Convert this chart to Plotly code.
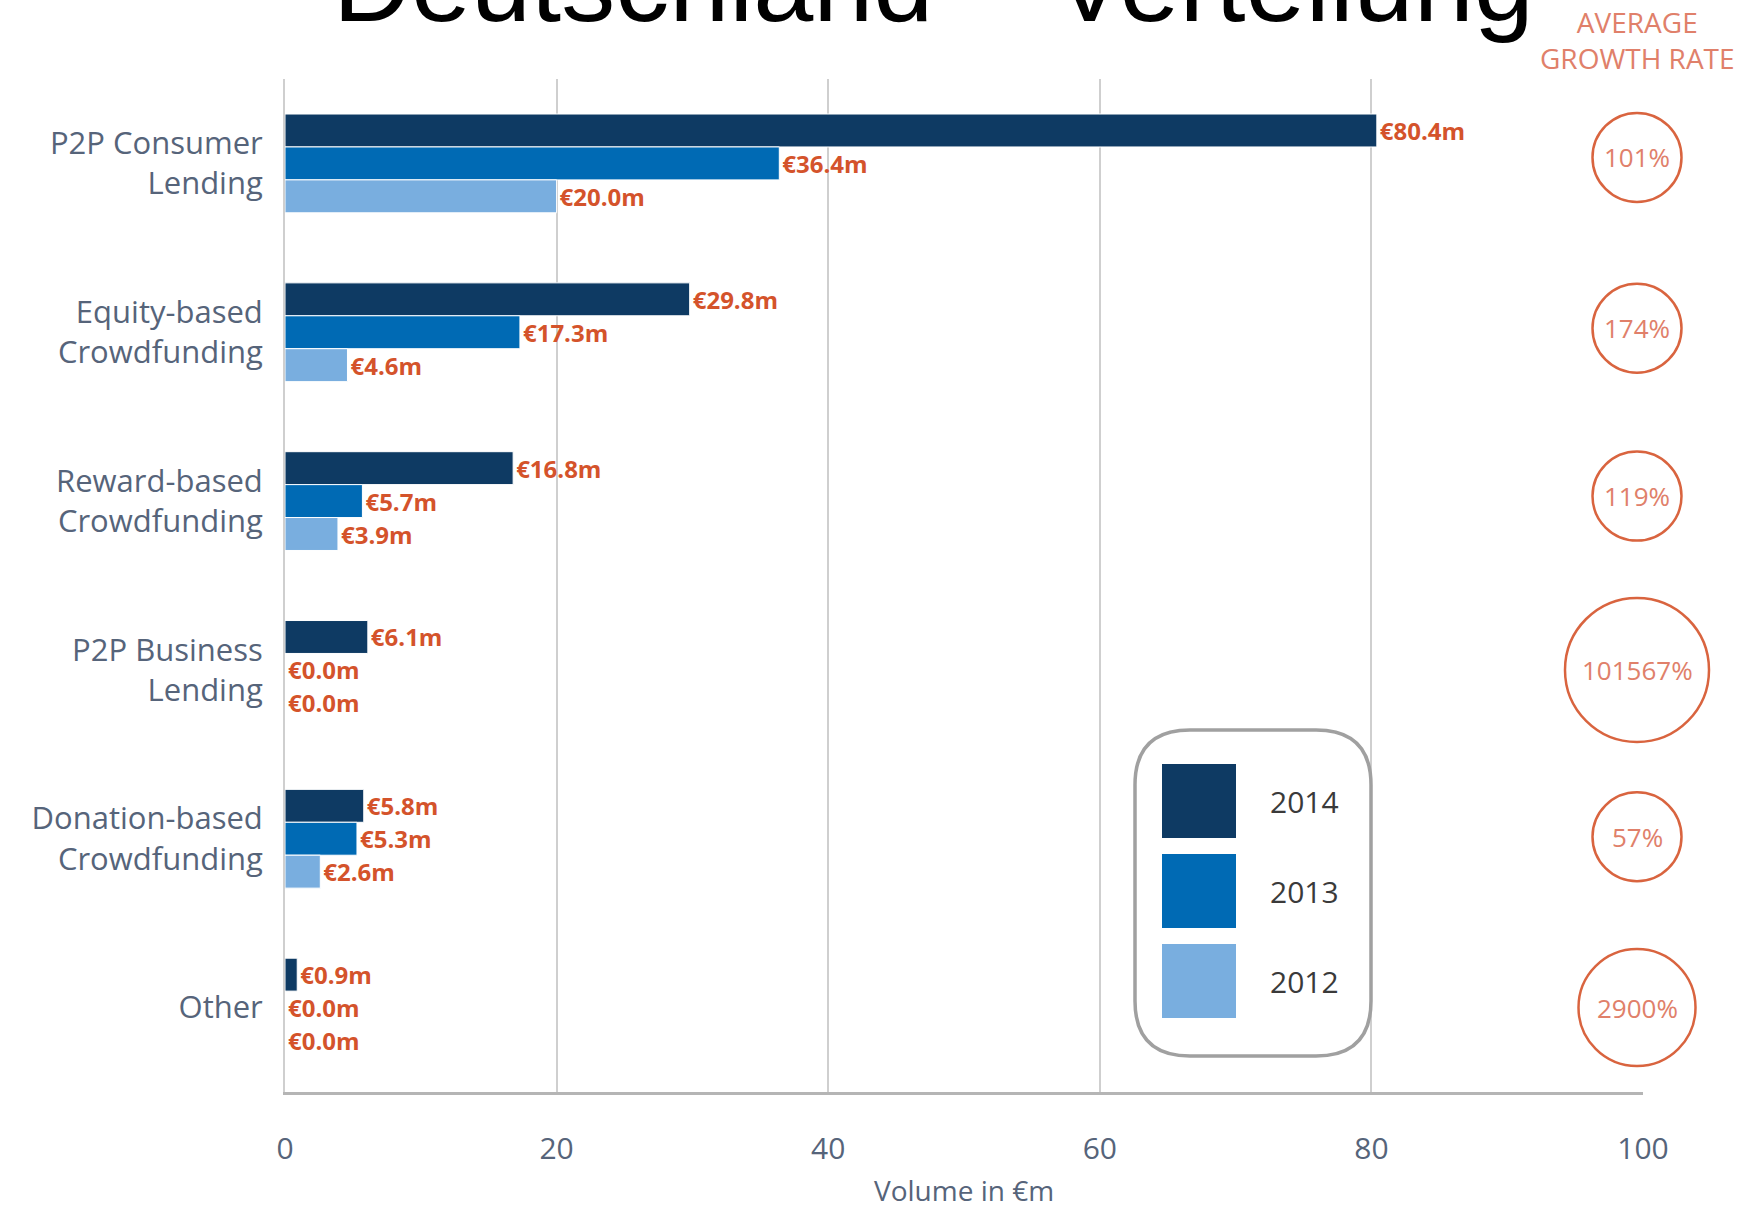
import plotly.graph_objects as go

# ---------------- data ----------------
categories = ["P2P Consumer<br>Lending", "Equity-based<br>Crowdfunding", "Reward-based<br>Crowdfunding",
              "P2P Business<br>Lending", "Donation-based<br>Crowdfunding", "Other"]
years = ["2014", "2013", "2012"]
vol_2014 = [80.4, 29.8, 16.8, 6.1, 5.8, 0.9]
vol_2013 = [36.4, 17.3, 5.7, 0.0, 5.3, 0.0]
vol_2012 = [20.0, 4.6, 3.9, 0.0, 2.6, 0.0]
growth_rates = ["101%", "174%", "119%", "101567%", "57%", "2900%"]
x_ticks = [0, 20, 40, 60, 80, 100]
title_text = "Deutschland – Verteilung"
growth_header = "AVERAGE<br>GROWTH RATE"
x_title = "Volume in €m"

# ---------------- styles ----------------
colors = ["#0E3A63", "#006AB4", "#79AEDF"]
circle_diams = [89, 89, 89, 144, 89, 117]
circle_dy = [-6, -4, -5, 0, -2, 0]   # pixel nudges of circle centres
orange = "#D4532B"
circle_col = "#D9643F"
growth_text_col = "#E0806A"
axis_text_col = "#56647A"
FONT = "Open Sans"

W, H = 1762, 1209
ML, MR, MT, MB = 285, 119, 79, 117
PW, PH = W - ML - MR, H - MT - MB

fig = go.Figure()
for name, vals, col in zip(years, [vol_2014, vol_2013, vol_2012], colors):
    fig.add_trace(go.Bar(
        y=categories, x=vals, name=name, orientation="h",
        marker=dict(color=col, line=dict(color="white", width=1)),
        texttemplate="€%{x:.1f}m", textposition="outside",
        textfont=dict(family=FONT, size=24, color=orange, weight="bold"),
        constraintext="none", cliponaxis=False, showlegend=False,
    ))

fig.update_layout(
    width=W, height=H,
    margin=dict(l=ML, r=MR, t=MT, b=MB, pad=0),
    paper_bgcolor="white", plot_bgcolor="white",
    barmode="group", bargap=0.415, bargroupgap=0.0,
    font=dict(family=FONT, color=axis_text_col),
    xaxis=dict(range=[0, 100], tickvals=x_ticks, showgrid=False, zeroline=False,
               showline=True, linecolor="#B5B5B5", linewidth=3,
               ticks="outside", ticklen=28, tickcolor="rgba(0,0,0,0)",
               tickfont=dict(size=30, color=axis_text_col)),
    xaxis2=dict(range=[0, 100], overlaying="x", tickvals=x_ticks[1:-1], showgrid=True,
                gridcolor="#CFCFCF", gridwidth=1.5, showticklabels=False, zeroline=False,
                showline=False, side="bottom"),
    yaxis=dict(autorange="reversed", type="category", showgrid=False, zeroline=False,
               showline=True, linecolor="#CFCFCF", linewidth=2,
               ticks="outside", ticklen=14, tickcolor="rgba(0,0,0,0)",
               tickfont=dict(size=31, color=axis_text_col)),
)
# invisible trace to activate gridline axis
fig.add_trace(go.Scatter(x=[None], y=[None], xaxis="x2", showlegend=False, hoverinfo="skip"))

annotations = []
shapes = []


def px_x(p):
    return (p - ML) / PW


def px_y(p):
    return (MT + PH - p) / PH


# title (clipped at top)
annotations.append(dict(text=title_text, xref="paper", yref="paper", x=px_x(933),
                        y=px_y(46), xanchor="center", yanchor="bottom", showarrow=False,
                        font=dict(family="Liberation Sans", size=108, color="black")))
# growth header
annotations.append(dict(text=growth_header, xref="paper", yref="paper", x=px_x(1637),
                        y=px_y(40), xanchor="center", yanchor="middle", showarrow=False,
                        font=dict(family=FONT, size=28, color=growth_text_col)))
# axis title
annotations.append(dict(text=x_title, xref="paper", yref="paper", x=0.5,
                        y=px_y(1190), xanchor="center", yanchor="middle", showarrow=False,
                        font=dict(family=FONT, size=28, color=axis_text_col)))

# growth circles
cx_paper = px_x(1637)
for i, (g, d, dy) in enumerate(zip(growth_rates, circle_diams, circle_dy)):
    shapes.append(dict(type="circle", xref="paper", yref="y", xsizemode="pixel", ysizemode="pixel",
                       xanchor=cx_paper, yanchor=i, x0=-d / 2, x1=d / 2,
                       y0=-d / 2 - dy, y1=d / 2 - dy,
                       line=dict(color=circle_col, width=2.5), fillcolor="rgba(0,0,0,0)"))
    annotations.append(dict(text=g, xref="paper", yref="y", x=cx_paper, y=i, yshift=-dy, showarrow=False,
                            xanchor="center", yanchor="middle",
                            font=dict(family=FONT, size=26, color=growth_text_col)))

# custom legend
lx0, lx1, ly0, ly1 = 1135, 1371, 730, 1056
r = 55
path = (f"M {px_x(lx0 + r)},{px_y(ly0)} L {px_x(lx1 - r)},{px_y(ly0)} "
        f"Q {px_x(lx1)},{px_y(ly0)} {px_x(lx1)},{px_y(ly0 + r)} "
        f"L {px_x(lx1)},{px_y(ly1 - r)} Q {px_x(lx1)},{px_y(ly1)} {px_x(lx1 - r)},{px_y(ly1)} "
        f"L {px_x(lx0 + r)},{px_y(ly1)} Q {px_x(lx0)},{px_y(ly1)} {px_x(lx0)},{px_y(ly1 - r)} "
        f"L {px_x(lx0)},{px_y(ly0 + r)} Q {px_x(lx0)},{px_y(ly0)} {px_x(lx0 + r)},{px_y(ly0)} Z")
shapes.append(dict(type="path", xref="paper", yref="paper", path=path,
                   line=dict(color="#A0A0A0", width=3.5), fillcolor="white", layer="above"))
for i, (name, col) in enumerate(zip(years, colors)):
    top = 764 + i * 90
    shapes.append(dict(type="rect", xref="paper", yref="paper", x0=px_x(1162), x1=px_x(1236),
                       y0=px_y(top + 74), y1=px_y(top), fillcolor=col, line=dict(width=0), layer="above"))
    annotations.append(dict(text=name, xref="paper", yref="paper", x=px_x(1268), y=px_y(top + 37),
                            xanchor="left", yanchor="middle", showarrow=False,
                            font=dict(family=FONT, size=30, color="#3A3A3A")))

fig.update_layout(shapes=shapes, annotations=annotations)
fig.write_html("out.html", config={"displayModeBar": False},
               post_script="document.body.style.margin='0';document.body.style.overflow='hidden';")
